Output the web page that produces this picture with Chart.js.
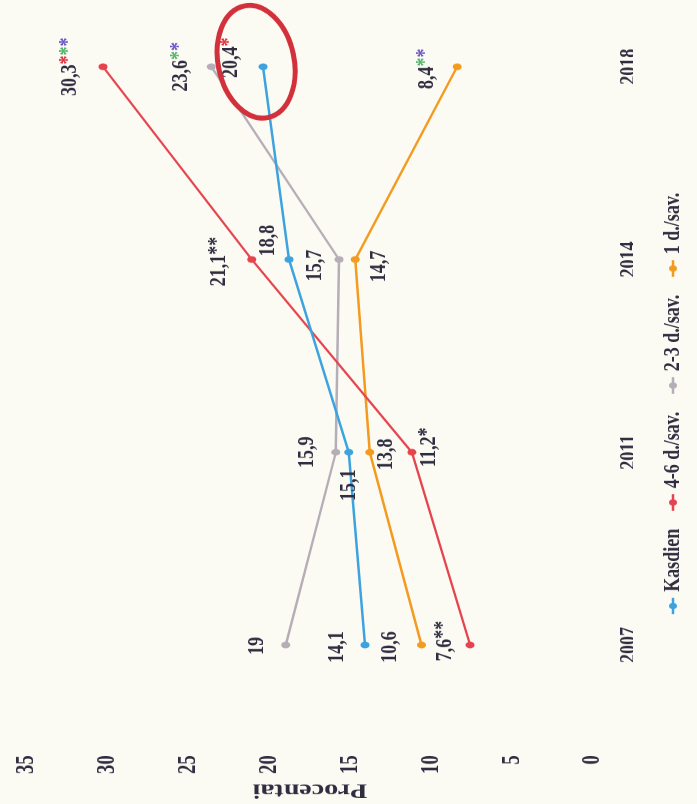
<!DOCTYPE html>
<html>
<head>
<meta charset="utf-8">
<script src="https://cdn.jsdelivr.net/npm/chart.js@4.4.1/dist/chart.umd.min.js"></script>
<style>
    html, body {
        margin: 0;
        padding: 0;
        width: 697px;
        height: 804px;
        overflow: hidden;
        background: #fcfbf3;
    }
    /* the chart is printed turned on its side, so draw it upright and rotate the box */
    #wrap {
        position: absolute;
        left: 0;
        top: 0;
        width: 804px;
        height: 697px;
        transform-origin: 0 0;
        transform: translate(0px, 804px) rotate(-90deg);
    }
</style>
</head>
<body>
<div id="wrap">
    <canvas id="chart" width="1072" height="697" style="width:804px;height:697px"></canvas>
</div>
<script>
// Data
const years = ['2007', '2011', '2014', '2018'];
const seriesNames = ['Kasdien', '4-6 d./sav.', '2-3 d./sav.', '1 d./sav.'];
const kasdien = [14.1, 15.1, 18.8, 20.4];
const days46 = [7.6, 11.2, 21.1, 30.3];
const days23 = [19, 15.9, 15.7, 23.6];
const days1 = [10.6, 13.8, 14.7, 8.4];
// significance stars after each value: k = dark, r = red, g = green, p = purple
const starsKasdien = ['', '', '', 'r'];
const stars46 = ['kk', 'k', 'kk', 'rgp'];
const stars23 = ['', '', '', 'gp'];
const stars1 = ['', '', '', 'gp'];
const yMin = 0;
const yMax = 35;
const yStep = 5;
const yTitle = 'Procentai';

// Look
const SQUEEZE = 0.75; // canvas is drawn wider and squeezed by css -> condensed type
const FONT = "'Liberation Serif', 'Times New Roman', serif";
const TEXT = '#2f2d40';
const colors = ['#3ca3df', '#e5444e', '#b5adb8', '#f39a1f'];
const starColors = { k: TEXT, r: '#dc3340', g: '#52b36a', p: '#6c55c9' };
const seriesStars = [starsKasdien, stars46, stars23, stars1];

// label offsets from their point, in screen px (before squeeze)
const labelOffsets = [
    [[-2, -28], [-33, 0], [19, -21], [9, -32]],
    [[4, -25], [5, 17], [-2, -33], [0, -33]],
    [[-1, -29], [0, -29], [-6, -24], [0, -31]],
    [[-2, -32], [-2, 16], [-7, 24], [-2, -30]]
];

Chart.defaults.font.family = FONT;
Chart.defaults.font.weight = 'bold';
Chart.defaults.font.size = 24;
Chart.defaults.color = TEXT;

function fmt(v) {
    return String(v).replace('.', ',');
}

// line with a dot, like the printed legend
function legendMarker(color) {
    const c = document.createElement('canvas');
    c.width = 22;
    c.height = 10;
    const g = c.getContext('2d');
    g.strokeStyle = color;
    g.lineWidth = 2.5;
    g.beginPath();
    g.moveTo(0, 5);
    g.lineTo(22, 5);
    g.stroke();
    g.fillStyle = color;
    g.beginPath();
    g.arc(11, 5, 4, 0, Math.PI * 2);
    g.fill();
    return c;
}
const markers = colors.map(legendMarker);

const valueLabels = {
    id: 'valueLabels',
    afterDatasetsDraw(chart) {
        const ctx = chart.ctx;
        const xs = chart.scales.x;
        const ys = chart.scales.y;
        ctx.save();
        ctx.font = `bold 24px ${FONT}`;
        ctx.textBaseline = 'middle';
        ctx.textAlign = 'left';
        const starW = ctx.measureText('*').width;
        chart.data.datasets.forEach((ds, i) => {
            ds.data.forEach((v, j) => {
                const text = fmt(v);
                const stars = seriesStars[i][j];
                const tw = ctx.measureText(text).width;
                const total = tw + starW * stars.length;
                const [dx, dy] = labelOffsets[i][j];
                let x = xs.getPixelForValue(j) + dx / SQUEEZE - total / 2;
                const y = ys.getPixelForValue(v) + dy;
                ctx.fillStyle = TEXT;
                ctx.fillText(text, x, y);
                x += tw;
                for (const s of stars) {
                    ctx.fillStyle = starColors[s];
                    ctx.fillText('*', x, y - 2);
                    x += starW;
                }
            });
        });
        ctx.restore();
    }
};

// hand drawn red ring round the 2018 "Kasdien" value
const redRing = {
    id: 'redRing',
    afterDraw(chart) {
        const ctx = chart.ctx;
        const x = chart.scales.x.getPixelForValue(3);
        const y = chart.scales.y.getPixelForValue(kasdien[3]);
        ctx.save();
        ctx.scale(1 / SQUEEZE, 1);
        ctx.strokeStyle = '#d2313c';
        ctx.lineWidth = 5;
        ctx.beginPath();
        ctx.ellipse(x * SQUEEZE + 5, y - 7, 57, 38, -12 * Math.PI / 180, 0, Math.PI * 2);
        ctx.stroke();
        ctx.restore();
    }
};

const legendFit = {
    id: 'legendFit',
    beforeInit(chart) {
        const fit = chart.legend.fit;
        chart.legend.fit = function () {
            fit.call(this);
            this.height = 64;
        };
    }
};

const series = [kasdien, days46, days23, days1];

new Chart(document.getElementById('chart'), {
    type: 'line',
    data: {
        labels: years,
        datasets: series.map((data, i) => ({
            label: seriesNames[i],
            data: data,
            borderColor: colors[i],
            backgroundColor: colors[i],
            pointBackgroundColor: colors[i],
            borderWidth: 2.5,
            pointRadius: 4.5,
            pointBorderWidth: 0,
            tension: 0,
            clip: false
        }))
    },
    options: {
        responsive: false,
        animation: false,
        devicePixelRatio: 1,
        layout: {
            padding: { top: 27, right: 0, bottom: 0, left: 0 }
        },
        scales: {
            x: {
                offset: false,
                grid: { display: false, drawTicks: false },
                border: { display: false },
                ticks: { padding: 21, maxRotation: 0, autoSkip: false, font: { size: 24 } },
                afterFit(scale) {
                    scale.height = 40;
                    scale.paddingLeft = 0;
                    scale.paddingRight = 0;
                }
            },
            y: {
                min: yMin,
                max: yMax,
                grid: { display: false, drawTicks: false },
                border: { display: false },
                ticks: { stepSize: yStep, padding: 147, font: { size: 25 } },
                title: {
                    display: true,
                    text: yTitle,
                    font: { size: 28 },
                    padding: { top: 2, bottom: 0 }
                },
                afterFit(scale) {
                    // the labels sit far left of the plot; keep that gap out of the top/bottom padding
                    scale.width = 212;
                    scale.paddingTop = 0;
                    scale.paddingBottom = 0;
                }
            },
            spacer: {
                position: 'right',
                grid: { display: false, drawTicks: false },
                border: { display: false },
                ticks: { display: false },
                afterFit(scale) {
                    scale.width = 89;
                    scale.paddingTop = 0;
                    scale.paddingBottom = 0;
                }
            }
        },
        plugins: {
            tooltip: { enabled: false },
            legend: {
                display: true,
                position: 'bottom',
                labels: {
                    usePointStyle: true,
                    pointStyleWidth: 14,
                    padding: 28,
                    color: TEXT,
                    font: { size: 24 },
                    generateLabels(chart) {
                        const items = Chart.defaults.plugins.legend.labels.generateLabels(chart);
                        items.forEach((it, i) => {
                            it.pointStyle = markers[i];
                            it.fontColor = TEXT;
                        });
                        return items;
                    }
                }
            }
        }
    },
    plugins: [legendFit, valueLabels, redRing]
});
</script>
</body>
</html>
